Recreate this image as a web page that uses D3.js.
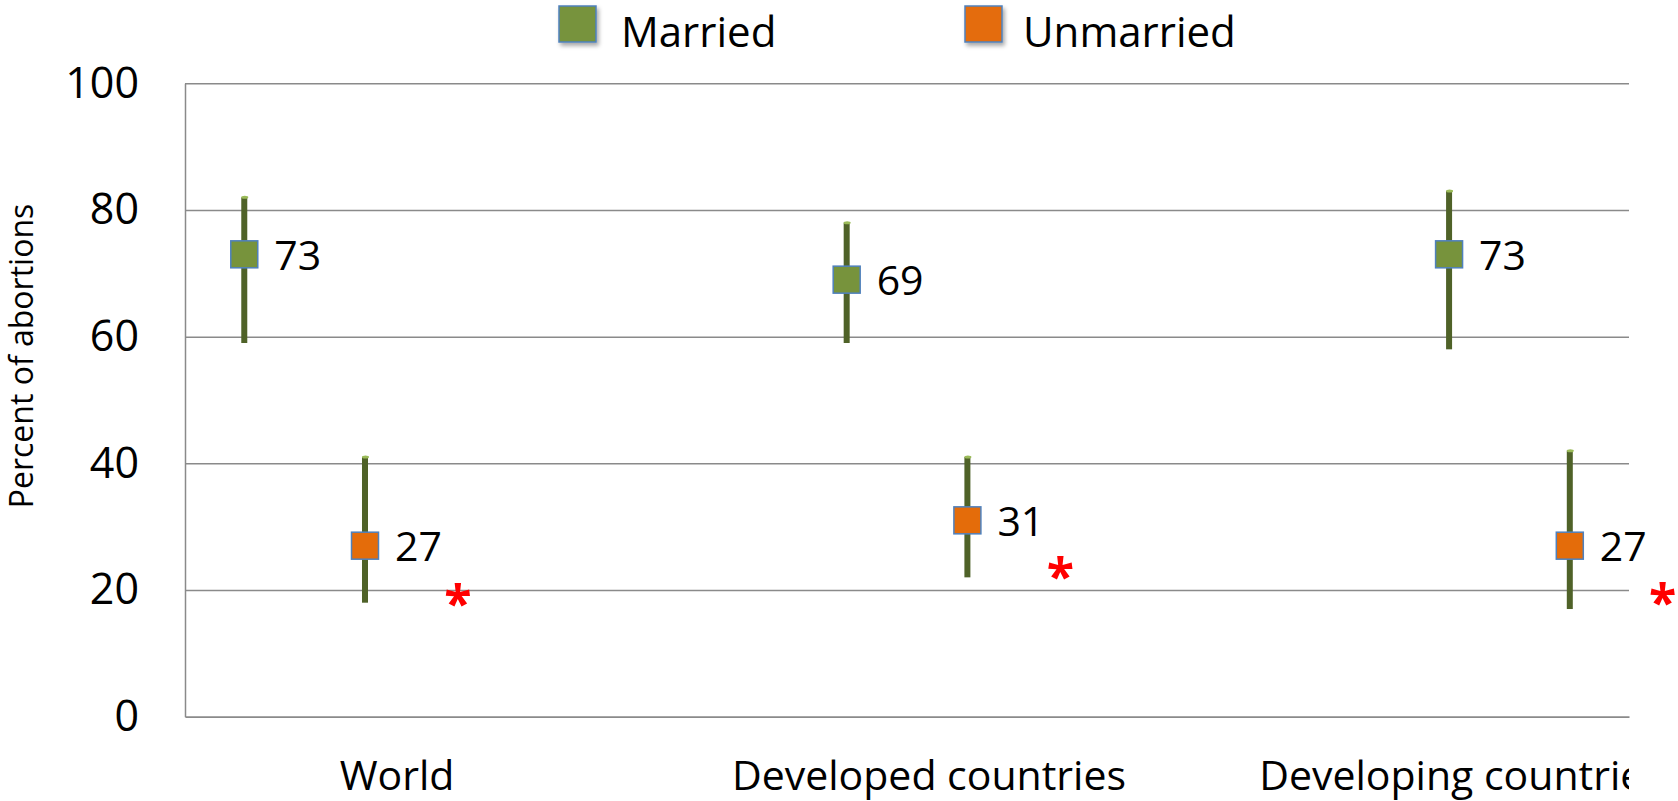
<!DOCTYPE html>
<html>
<head>
<meta charset="utf-8">
<script src="https://cdn.jsdelivr.net/npm/d3@7/dist/d3.min.js"></script>
<style>
  html, body { margin: 0; padding: 0; background: #fff; }
  svg { display: block; font-family: "Open Sans", "Noto Sans", sans-serif; }
</style>
</head>
<body>
<svg id="chart" width="1678" height="801"></svg>
<script>
// ---- data ----
const categories = ["World", "Developed countries", "Developing countries"];
const series = ["Married", "Unmarried"];
const married = [73, 69, 73];
const marriedLow = [59, 59, 58];
const marriedHigh = [82, 78, 83];
const unmarried = [27, 31, 27];
const unmarriedLow = [18, 22, 17];
const unmarriedHigh = [41, 41, 42];
const significanceY = [19, 23.3, 19.2];
const yTicks = [0, 20, 40, 60, 80, 100];

// ---- layout ----
const W = 1678, H = 801;
const plotLeft = 185, plotRight = 1629, plotTop = 83.3, plotBottom = 716.7;
const bandWidth = 602.4;
const colors = { Married: "#77933C", Unmarried: "#E46C0A" };
const barColor = "#4F6228", capColor = "#9BBB59", markerStroke = "#4F81BD";
const gridColor = "#8A8A8A";

const svg = d3.select("#chart");
const defs = svg.append("defs");
const shadow = defs.append("filter").attr("id", "shadow").attr("x", "-30%").attr("y", "-30%").attr("width", "170%").attr("height", "170%");
shadow.append("feDropShadow").attr("dx", 2).attr("dy", 3).attr("stdDeviation", 2).attr("flood-color", "#000").attr("flood-opacity", 0.35);
defs.append("clipPath").attr("id", "labelclip").append("rect")
  .attr("x", 0).attr("y", 0).attr("width", plotRight).attr("height", H);

const y = d3.scaleLinear().domain([0, 100]).range([plotBottom, plotTop]);
const band = d3.scaleBand().domain(categories).range([plotLeft, plotLeft + bandWidth * categories.length]);
const offset = d3.scaleOrdinal().domain(["Married", "Unmarried", "sig"]).range([0.0984, 0.2988, 0.453]);
const xOf = (cat, key) => band(cat) + offset(key) * band.bandwidth();
const labelX = d3.scalePoint().domain(categories).range([397, 1461]);

// gridlines
const grid = svg.append("g").attr("transform", `translate(${plotLeft},0)`)
  .call(d3.axisLeft(y).tickValues(yTicks.filter(v => v > 0)).tickSize(-(plotRight - plotLeft)).tickFormat(""));
grid.select(".domain").remove();
grid.selectAll(".tick line").attr("stroke", gridColor).attr("stroke-width", 1.5);

// y axis
const yAxis = svg.append("g").attr("transform", `translate(${plotLeft},0)`)
  .call(d3.axisLeft(y).tickValues(yTicks).tickSize(0).tickPadding(46));
yAxis.select(".domain").attr("stroke", gridColor).attr("stroke-width", 1.5);
yAxis.selectAll(".tick text").attr("font-size", 43).attr("fill", "#000")
  .attr("font-family", "Open Sans, sans-serif");

// x axis line
const xAxis = svg.append("g").attr("transform", `translate(0,${plotBottom})`)
  .call(d3.axisBottom(d3.scaleLinear().domain([0, 1]).range([plotLeft, plotRight])).ticks(0).tickSize(0).tickFormat(""));
xAxis.select(".domain").attr("stroke", gridColor).attr("stroke-width", 1.8);

// category labels
svg.append("g").attr("clip-path", "url(#labelclip)")
  .selectAll("text").data(categories).join("text")
  .attr("x", d => labelX(d)).attr("y", 790)
  .attr("text-anchor", "middle").attr("font-size", 41).attr("fill", "#000")
  .text(d => d);

// y title
svg.append("text")
  .attr("transform", "rotate(-90)")
  .attr("x", -356).attr("y", 33)
  .attr("text-anchor", "middle").attr("font-size", 32).attr("fill", "#000")
  .text("Percent of abortions");

// points
const points = [];
categories.forEach((c, i) => {
  points.push({ cat: c, s: "Married", v: married[i], lo: marriedLow[i], hi: marriedHigh[i] });
  points.push({ cat: c, s: "Unmarried", v: unmarried[i], lo: unmarriedLow[i], hi: unmarriedHigh[i] });
});

const pg = svg.append("g");
// error bars
pg.selectAll("rect.err").data(points).join("rect").attr("class", "err")
  .attr("x", d => xOf(d.cat, d.s) - 3).attr("width", 6)
  .attr("y", d => y(d.hi)).attr("height", d => y(d.lo) - y(d.hi))
  .attr("fill", barColor);
pg.selectAll("ellipse.cap").data(points).join("ellipse").attr("class", "cap")
  .attr("cx", d => xOf(d.cat, d.s) + 0.5).attr("cy", d => y(d.hi))
  .attr("rx", 3.5).attr("ry", 1.5).attr("fill", capColor);
// markers
const ms = 27;
pg.selectAll("rect.mk").data(points).join("rect").attr("class", "mk")
  .attr("x", d => xOf(d.cat, d.s) - ms / 2).attr("y", d => y(d.v) - ms / 2)
  .attr("width", ms).attr("height", ms)
  .attr("fill", d => colors[d.s]).attr("stroke", markerStroke).attr("stroke-width", 1.5);
// value labels
pg.selectAll("text.val").data(points).join("text").attr("class", "val")
  .attr("x", d => xOf(d.cat, d.s) + 30).attr("y", d => y(d.v) + 15.5)
  .attr("font-size", 41).attr("fill", "#000")
  .text(d => d.v);

// significance asterisks
svg.append("g").selectAll("text").data(categories).join("text")
  .attr("x", d => xOf(d, "sig")).attr("y", (d, i) => y(significanceY[i]) + 25)
  .attr("text-anchor", "middle").attr("font-size", 50).attr("font-weight", "bold")
  .attr("fill", "#FF0000")
  .text("*");

// legend
const legendItems = [
  { s: "Married", x: 559, tx: 621 },
  { s: "Unmarried", x: 965, tx: 1023 }
];
const lg = svg.append("g");
lg.selectAll("rect").data(legendItems).join("rect")
  .attr("x", d => d.x).attr("y", 6).attr("width", 37).attr("height", 36)
  .attr("fill", d => colors[d.s]).attr("stroke", markerStroke).attr("stroke-width", 1.5)
  .attr("filter", "url(#shadow)");
lg.selectAll("text").data(legendItems).join("text")
  .attr("x", d => d.tx).attr("y", 47)
  .attr("font-size", 42).attr("fill", "#000")
  .text(d => d.s);
</script>
</body>
</html>
